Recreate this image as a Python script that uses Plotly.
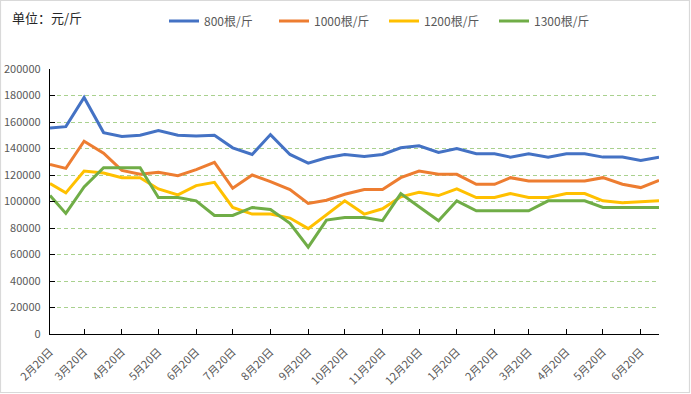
import plotly.graph_objects as go

dates = [
    "2022-02-20", "2022-03-05", "2022-03-20", "2022-04-05", "2022-04-20", "2022-05-05",
    "2022-05-20", "2022-06-05", "2022-06-20", "2022-07-05", "2022-07-20", "2022-08-05",
    "2022-08-20", "2022-09-05", "2022-09-20", "2022-10-05", "2022-10-20", "2022-11-05",
    "2022-11-20", "2022-12-05", "2022-12-20", "2023-01-05", "2023-01-20", "2023-02-05",
    "2023-02-20", "2023-03-05", "2023-03-20", "2023-04-05", "2023-04-20", "2023-05-05",
    "2023-05-20", "2023-06-05", "2023-06-20", "2023-07-05",
]

s800 = [155500, 156500, 178500, 152000, 149000, 150000, 153500, 150000, 149500,
        150000, 140500, 135500, 150500, 135500, 129000, 133000, 135500,
        134000, 135500, 140500, 142000, 137000, 140000, 136000, 136000,
        133500, 136000, 133500, 136000, 136000, 133500, 133500, 131000, 133500]
s1000 = [128000, 125000, 145500, 136500, 123500, 120500, 122000, 119500, 124000,
         129500, 110000, 120000, 115000, 109000, 98500, 101000, 105500,
         109000, 109000, 118000, 123000, 120500, 120500, 113000, 113000,
         118000, 115500, 115500, 115500, 115500, 118000, 113000, 110500, 116000]
s1200 = [113500, 106500, 123000, 121500, 118000, 118000, 109500, 105000, 112000,
         114500, 95500, 90500, 90500, 87500, 79500, 90000, 100500,
         90500, 94500, 103500, 107000, 104500, 109500, 103000, 103000,
         106000, 103000, 103000, 106000, 106000, 100500, 99000, 99500, 100500]
s1300 = [104500, 91000, 111000, 125500, 125500, 125500, 103000, 103000, 100500,
         89500, 89500, 95500, 94000, 83500, 65500, 86000, 88000,
         88000, 85500, 106000, 96000, 85500, 100500, 93000, 93000,
         93000, 93000, 100500, 100500, 100500, 95500, 95500, 95500, 95500]

series_names = ["800根/斤", "1000根/斤", "1200根/斤", "1300根/斤"]
series_colors = ["#4472C4", "#ED7D31", "#FFC000", "#70AD47"]

tick_vals = [
    "2022-02-20", "2022-03-20", "2022-04-20", "2022-05-20", "2022-06-20", "2022-07-20",
    "2022-08-20", "2022-09-20", "2022-10-20", "2022-11-20", "2022-12-20", "2023-01-20",
    "2023-02-20", "2023-03-20", "2023-04-20", "2023-05-20", "2023-06-20",
]
tick_text = [
    "2月20日", "3月20日", "4月20日", "5月20日", "6月20日", "7月20日", "8月20日",
    "9月20日", "10月20日", "11月20日", "12月20日", "1月20日", "2月20日", "3月20日",
    "4月20日", "5月20日", "6月20日",
]

W, H = 691, 394
L, R, T, B = 50, 32, 69, 60
pw = W - L - R
ph = H - T - B

def px_x(p):
    return (p - L) / pw

def px_y(p):
    return (H - B - p) / ph

fig = go.Figure()
for name, vals, col in zip(series_names, [s800, s1000, s1200, s1300], series_colors):
    fig.add_trace(go.Scatter(x=dates, y=vals, name=name, mode="lines",
                             line=dict(color=col, width=3)))

font_family = "Noto Sans CJK SC, Noto Sans, sans-serif"

fig.update_layout(
    width=W, height=H,
    margin=dict(l=L, r=R, t=T, b=B, autoexpand=False),
    paper_bgcolor="white", plot_bgcolor="white",
    font=dict(family=font_family, size=11, color="#595959"),
    showlegend=True,
    legend=dict(orientation="h", x=px_x(164), xanchor="left", y=px_y(21), yanchor="middle",
                font=dict(size=12, color="#595959"), entrywidth=65, entrywidthmode="pixels",
                bgcolor="rgba(0,0,0,0)"),
    xaxis=dict(type="date", range=["2022-02-20", "2023-07-05"],
               tickmode="array", tickvals=tick_vals, ticktext=tick_text,
               tickangle=-45, ticks="inside", ticklen=5, tickcolor="black",
               showline=True, linecolor="black", linewidth=1.3,
               showgrid=False, zeroline=False, ticklabelstandoff=6,
               tickfont=dict(size=11, color="#595959")),
    yaxis=dict(range=[0, 200000], dtick=20000, tick0=0,
               ticks="inside", ticklen=5, tickcolor="black",
               showline=True, linecolor="black", linewidth=1.3,
               showgrid=True, gridcolor="#A9D18E", gridwidth=1, griddash="4px,3px",
               zeroline=False, tickformat="d", ticklabelstandoff=6,
               tickfont=dict(size=11, color="#595959")),
    annotations=[dict(text="单位：元/斤", xref="paper", yref="paper",
                      x=px_x(10), y=px_y(17.6), xanchor="left", yanchor="middle",
                      showarrow=False, font=dict(size=13, color="#262626", family=font_family))],
    shapes=[dict(type="rect", xref="paper", yref="paper",
                 x0=px_x(0.5), x1=px_x(689.5), y0=px_y(392.5), y1=px_y(0.5),
                 line=dict(color="#D9D9D9", width=1.2), layer="below")],
)

fig.write_html("out.html", config={"displayModeBar": False},
               post_script="document.body.style.margin='0';document.body.style.overflow='hidden';")
